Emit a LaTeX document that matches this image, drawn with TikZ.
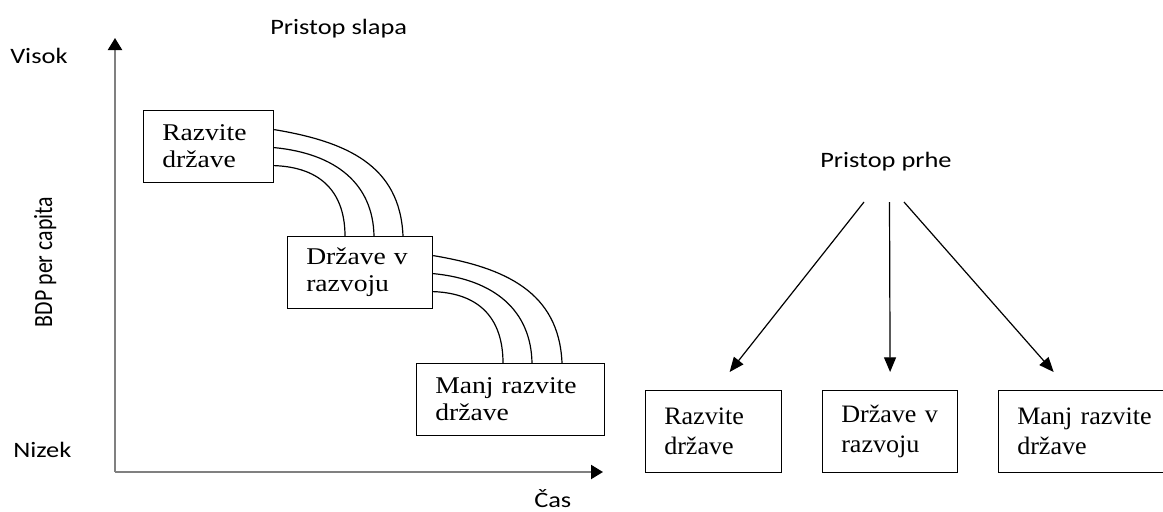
\documentclass[tikz,border=0pt]{standalone}
\usepackage{fontspec}
\usetikzlibrary{arrows.meta,calc}
\newfontfamily\labfont{Carlito}[FakeStretch=1.2]
\newfontfamily\labfontn{Carlito}
\newfontfamily\boxfontL{Liberation Serif}[FakeStretch=1.15]
\newfontfamily\boxfontR{Liberation Serif}[FakeStretch=1.04]
\definecolor{axisgray}{RGB}{128,128,128}
\begin{document}
\begin{tikzpicture}[x=0.75pt,y=-0.75pt,
  lab/.style={inner sep=0pt, anchor=base west, font=\labfont\fontsize{16.5pt}{19pt}\selectfont},
  boxL/.style={draw=black, line width=0.9pt, anchor=north west, align=left, inner xsep=14pt, inner ysep=0pt, minimum height=54pt, font=\boxfontL\fontsize{18pt}{20.25pt}\selectfont},
  boxR/.style={draw=black, line width=0.9pt, anchor=north west, align=left, inner xsep=14pt, inner ysep=0pt, minimum height=61.5pt, font=\boxfontR\fontsize{18.8pt}{22.5pt}\selectfont},
  axis/.style={draw=axisgray, line width=1.6pt, -{Triangle[length=9pt,width=10.5pt,color=black]}},
  flow/.style={line width=0.9pt},
  arr/.style={line width=0.9pt, -{Triangle[length=11pt,width=9pt]}}
]
\useasboundingbox (0,0) rectangle (1163,511);
\clip (0,0) rectangle (1163,511);

% axes
\coordinate (O) at (115,472);
\coordinate (ytip) at (115,38);
\coordinate (xtip) at (603,472);
\draw[axis] (O) -- (ytip);
\draw[axis] (O) -- (xtip);

% labels
\node[lab] (visok) at (10,63) {Visok};
\node[lab] (nizek) at (13,457) {Nizek};
\node[lab] (slapa) at (270,34) {Pristop slapa};
\node[lab] (cas) at (534,507) {Čas};
\node[lab] (prhe) at (820,167) {Pristop prhe};
\node[inner sep=0pt, rotate=90, anchor=base] (bdp) at (52,262)
  {\scalebox{1}[1.2]{\resizebox{97.5pt}{!}{\labfontn\fontsize{16.35pt}{19pt}\selectfont BDP per capita}}};

% waterfall boxes
\node[boxL, text width=69.5pt] (b1) at (143,110) {Razvite\\države};
\node[boxL, text width=80.75pt] (b2) at (287,236) {Države v\\razvoju};
\node[boxL, text width=113pt] (b3) at (416,363) {Manj razvite\\države};

% flows b1 -> b2
\draw[flow] ($(b1.east)+(0,-17)$) coordinate (f1s)
  .. controls ($(f1s)+(72,12)$) and ($(b2.north west)+(113,-71)$) .. ($(b2.north west)+(116,0)$);
\draw[flow] ($(b1.east)+(0,1)$) coordinate (f2s)
  .. controls ($(f2s)+(62,6)$) and ($(b2.north west)+(86,-52)$) .. ($(b2.north west)+(87,0)$);
\draw[flow] ($(b1.east)+(0,19)$) coordinate (f3s)
  .. controls ($(f3s)+(55,2)$) and ($(b2.north west)+(58,-35)$) .. ($(b2.north west)+(58,0)$);

% flows b2 -> b3
\draw[flow] ($(b2.east)+(0,-17)$) coordinate (g1s)
  .. controls ($(g1s)+(72,12)$) and ($(b3.north west)+(143,-71)$) .. ($(b3.north west)+(146,0)$);
\draw[flow] ($(b2.east)+(0,1)$) coordinate (g2s)
  .. controls ($(g2s)+(62,6)$) and ($(b3.north west)+(115,-52)$) .. ($(b3.north west)+(116,0)$);
\draw[flow] ($(b2.east)+(0,19)$) coordinate (g3s)
  .. controls ($(g3s)+(55,2)$) and ($(b3.north west)+(87,-35)$) .. ($(b3.north west)+(87,0)$);

% leap boxes
\node[boxR, text width=74pt] (bA) at (645,390) {Razvite\\države};
\node[boxR, text width=73.25pt] (bB) at (822,390) {Države v\\razvoju};
\node[boxR, text width=113pt] (bC) at (998,390) {Manj razvite\\države};

% leap arrows
\coordinate (s1) at (864,202);
\coordinate (s2) at (889.5,202);
\coordinate (s3) at (904,202);
\draw[arr] (s1) -- ($(bA.north)+(16,-18)$);
\draw[arr] (s2) -- ($(bB.north)+(0,-18)$);
\draw[arr] (s3) -- ($(bC.north)+(-39,-18)$);
\end{tikzpicture}
\end{document}
